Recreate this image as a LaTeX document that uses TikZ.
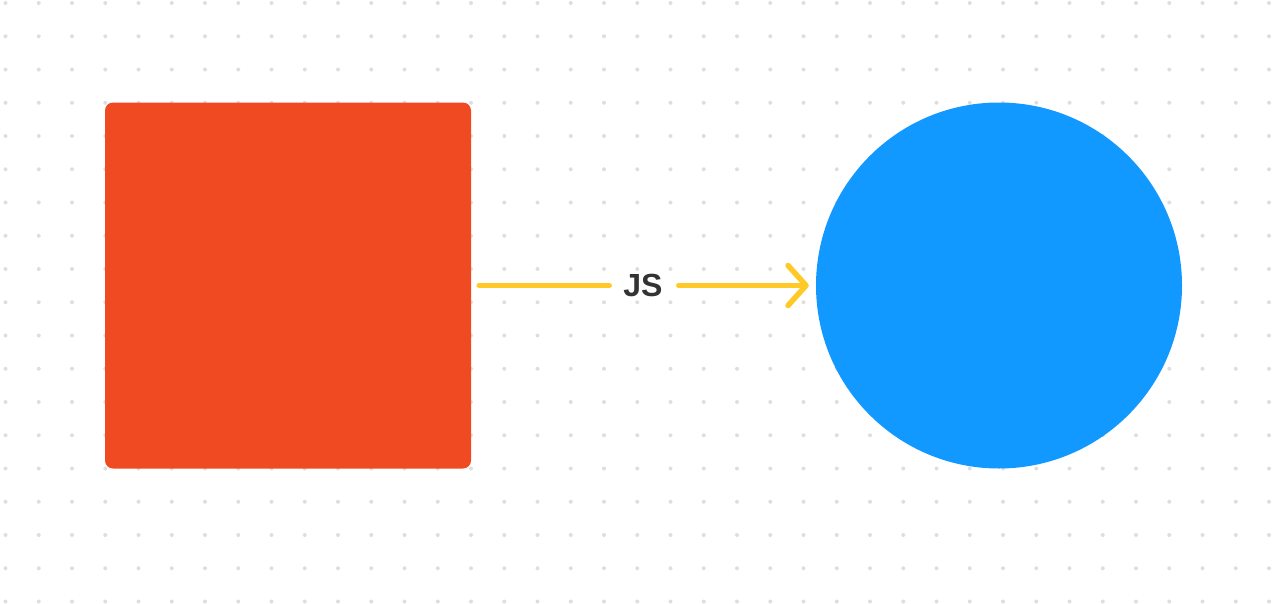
\documentclass[tikz,border=0pt]{standalone}
\usepackage{fontspec}
\setmainfont{Liberation Sans}
\usetikzlibrary{positioning, arrows.meta}
\definecolor{boxred}{RGB}{240, 74, 34}
\definecolor{ballblue}{RGB}{17, 153, 255}
\definecolor{linkyellow}{RGB}{255, 202, 40}
\definecolor{dotgrey}{RGB}{222, 222, 222}
\definecolor{labelgrey}{RGB}{51, 51, 51}

\tikzset{
    shapebox/.style={fill=boxred, rounded corners=8pt, minimum size=366pt, inner sep=0pt},
    shapeball/.style={circle, fill=ballblue, minimum size=366pt, inner sep=0pt},
    link/.style={draw=linkyellow, line width=5.5pt, line cap=round},
}

\begin{document}
\begin{tikzpicture}[x=1pt, y=-1pt]
        \useasboundingbox (0,0) rectangle (1272,603);
        % dot grid
        \foreach \i in {0,...,38} {
            \foreach \j in {0,...,18} {
                \fill[dotgrey] (5.5+33.25*\i, 3+33.25*\j) circle (2pt);
            }
        }
        \node[shapebox] (box) at (288,285.5) {};
        \node[shapeball] (ball) at (999,285.5) {};
        \node[font=\bfseries\fontsize{32}{32}\selectfont, text=labelgrey, inner sep=0pt] (js) at (643,285.5) {JS};
        \draw[link, shorten <=8pt, shorten >=14pt] (box.east) -- (js.west);
        \draw[link, -{Straight Barb[round, length=18pt, width=40pt]}, shorten <=16pt, shorten >=7pt] (js.east) -- (ball.west);
    \end{tikzpicture}
\end{document}
